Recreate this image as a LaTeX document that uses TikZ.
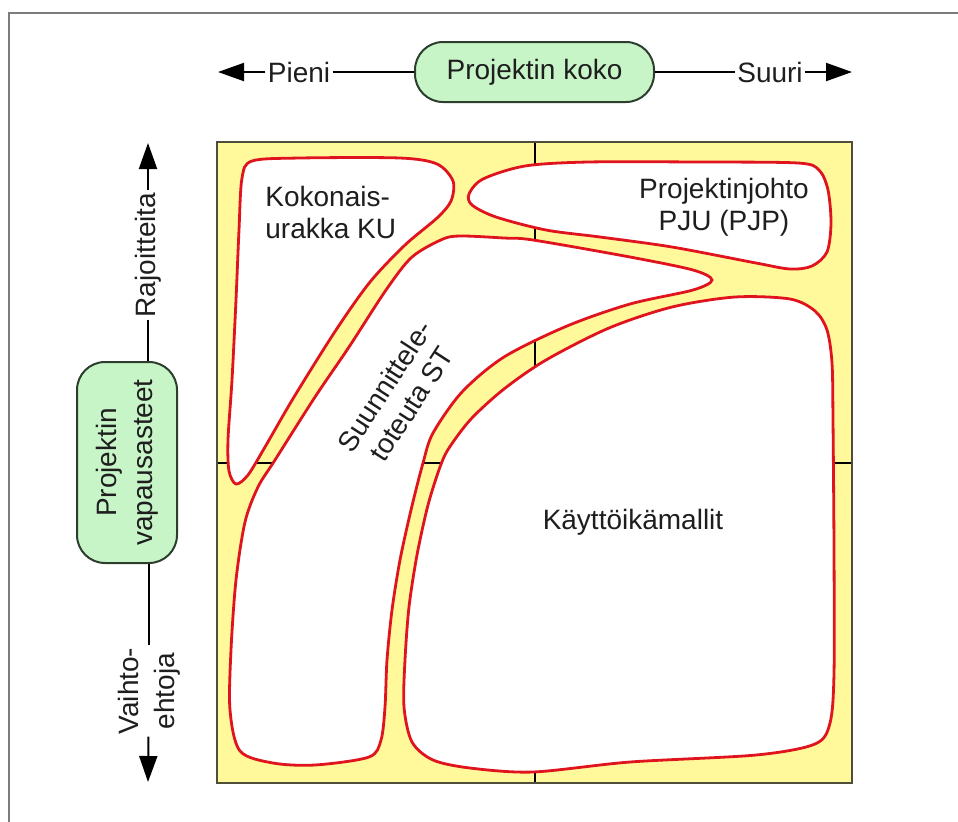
\documentclass[tikz,border=0pt]{standalone}
\usepackage{fontspec}
\setmainfont{Liberation Sans}
\usetikzlibrary{arrows.meta}

\definecolor{frameGray}{HTML}{7C7C7C}
\definecolor{fieldYellow}{HTML}{FFF99C}
\definecolor{fieldEdge}{HTML}{4E4E3A}
\definecolor{zoneRed}{HTML}{E0141E}
\definecolor{pillFill}{HTML}{C8F5C8}
\definecolor{pillEdge}{HTML}{2E3E2E}
\definecolor{ink}{HTML}{1E1E1E}

\begin{document}
\begin{tikzpicture}[
  x=0.5pt, y=-0.5pt,
  txt/.style={font=\fontsize{14}{16}\selectfont, text=ink, inner sep=1pt},
  pill/.style={txt, draw=pillEdge, fill=pillFill, line width=1pt, rounded corners=14pt},
  conn/.style={draw=black, line width=1pt},
  tipped/.style={conn, -{Triangle[length=13pt,width=9pt]}},
  zone/.style={draw=zoneRed, fill=white, line width=1.4pt},
  tick/.style={draw=black, line width=1.4pt},
]
\useasboundingbox (0,0) rectangle (958,821);

% page frame (only the top and left edges fall inside the page)
\draw[frameGray, line width=1.3pt] (9,840) -- (9,13) -- (980,13);

% ---------- size axis ----------
\node[pill, minimum width=119.5pt, minimum height=30pt] (koko) at (534.5,72) {Projektin koko};
\node[txt] (pieni) at (299,72) {Pieni};
\node[txt] (suuri) at (770,72) {Suuri};
\coordinate (tipL) at (218,72);
\coordinate (tipR) at (852,72);
\draw[conn] (pieni) -- (koko);
\draw[conn] (koko) -- (suuri);
\draw[tipped] (pieni) -- (tipL);
\draw[tipped] (suuri) -- (tipR);

% ---------- freedom axis ----------
\node[pill, rotate=90, align=center, minimum width=100.5pt, minimum height=50pt,
      font=\fontsize{14}{18}\selectfont] (vap) at (127,462.5) {Projektin\\vapausasteet};
\node[txt, rotate=90] (raj) at (148,255) {Rajoitteita};
\node[txt, rotate=90, align=center, font=\fontsize{14}{18}\selectfont] (vaiht) at (149,691) {Vaihto-\\ehtoja};
\coordinate (tipT) at (148,143);
\coordinate (tipB) at (148,782);
\draw[conn] (raj) -- (raj |- vap.east);
\draw[conn] (vaiht) -- (vaiht |- vap.west);
\draw[tipped] (raj) -- (tipT);
\draw[tipped] (vaiht) -- (tipB);

% ---------- field ----------
\fill[fieldYellow] (217,142) rectangle (852,783);
\coordinate (midN) at (535,142);
\coordinate (midS) at (535,783);
\coordinate (midW) at (217,463);
\coordinate (midE) at (852,463);
\draw[tick] (midN) -- (midS);
\draw[tick] (midW) -- (midE);

% Kokonaisurakka KU
\draw[zone] plot[smooth cycle, tension=0.5] coordinates {
  (252,161) (300,158) (400,158) (437,164) (453,181) (451,201) (437,218)
  (405,245) (370,282) (336,330) (294,397) (265,447) (248,475) (236,484)
  (229,471) (228,440) (232,380) (236,300) (239,230) (242,178)};

% Projektinjohto PJU
\draw[zone] plot[smooth cycle, tension=0.5] coordinates {
  (469,194) (483,179) (525,166) (588,162) (700,162) (798,163) (819,170)
  (828,190) (831,223) (827,252) (812,266) (790,269) (756,263) (672,247)
  (600,237) (546,230) (496,217) (472,205)};

% Suunnittele-toteuta ST
\draw[zone] plot[smooth cycle, tension=0.5] coordinates {
  (462,236) (504,238) (533,240) (630,257) (693,270) (712,280) (693,290)
  (630,304) (567,326) (504,357) (462,392) (433,433) (423,463) (411,510)
  (400,560) (392,610) (387,660) (385,707) (381,740) (369,757) (315,765)
  (273,763) (240,751) (230,710) (231,650) (236,580) (245,522) (258,487)
  (275,460) (315,397) (349,347) (386,290) (412,257) (443,239)};

% Kayttoikamallit
\draw[zone] plot[smooth cycle, tension=0.5] coordinates {
  (440,467) (428,505) (417,555) (409,607) (405,660) (404,707) (412,742)
  (433,760) (470,768) (533,772) (630,762) (756,755) (815,744) (830,723)
  (834,673) (834,550) (833,420) (832,363) (827,330) (815,311) (790,299)
  (735,297) (672,307) (609,328) (546,360) (504,389) (471,419) (449,448)};

\draw[fieldEdge, line width=1pt] (217,142) rectangle (852,783);

% zone labels
\node[txt, anchor=west, align=left] (kuLbl) at (263,212) {Kokonais-\\urakka KU};
\node[txt, align=center] (pjuLbl) at (724,207) {Projektinjohto\\PJU (PJP)};
\node[txt, align=center, rotate=57] (stLbl) at (398,395) {Suunnittele-\\toteuta ST};
\node[txt] (kmLbl) at (633,522) {Käyttöikämallit};
\end{tikzpicture}
\end{document}
